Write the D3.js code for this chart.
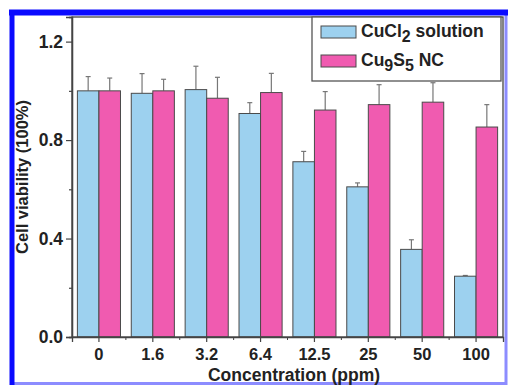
<!DOCTYPE html>
<html>
<head>
<meta charset="utf-8">
<script src="https://cdn.jsdelivr.net/npm/d3@7"></script>
<style>
  body { margin: 0; background: #fff; }
  text { font-family: "Liberation Sans", Arial, sans-serif; font-weight: bold; fill: #222; }
</style>
</head>
<body>
<div id="chart"></div>
<script>
// data
const concentrations = ['0', '1.6', '3.2', '6.4', '12.5', '25', '50', '100'];
const cuclValues = [1.0, 0.99, 1.005, 0.908, 0.712, 0.61, 0.356, 0.247];
const cuclErrors = [0.058, 0.08, 0.095, 0.044, 0.042, 0.016, 0.039, 0.003];
const cusValues = [1.0, 1.0, 0.97, 0.993, 0.922, 0.944, 0.954, 0.853];
const cusErrors = [0.052, 0.047, 0.085, 0.078, 0.075, 0.081, 0.079, 0.091];
const yTicks = [0.0, 0.4, 0.8, 1.2];
const yMinorTicks = [0.2, 0.6, 1.0];

const width = 508, height = 386;
const margin = {top: 17, right: 5, bottom: 49, left: 72};
const colors = {cucl: '#9dd1ef', cus: '#f05bb0'};

const svg = d3.select('#chart').append('svg')
  .attr('width', width)
  .attr('height', height);

// blue frame around the figure
svg.append('rect').attr('x', 12).attr('y', 12.5).attr('width', 494).attr('height', 371)
  .attr('fill', 'none').attr('stroke', '#8c8cff').attr('stroke-width', 3);
svg.append('line').attr('x1', 9).attr('x2', 508).attr('y1', 12.5).attr('y2', 12.5)
  .attr('stroke', '#0a0aff').attr('stroke-width', 6);
svg.append('line').attr('x1', 12).attr('x2', 12).attr('y1', 10).attr('y2', 385)
  .attr('stroke', '#0a0aff').attr('stroke-width', 5);

const x0 = d3.scaleBand().domain(concentrations)
  .range([margin.left, width - margin.right])
  .paddingInner(0.2).paddingOuter(0.1);
const x1 = d3.scaleBand().domain(['cucl', 'cus']).range([0, x0.bandwidth()]);
const y = d3.scaleLinear().domain([0, 1.3]).range([height - margin.bottom, margin.top]);

const groups = svg.append('g').selectAll('g')
  .data(concentrations)
  .join('g')
  .attr('transform', (d) => `translate(${x0(d)},0)`);

const rows = concentrations.map((c, i) => [
  {key: 'cucl', v: cuclValues[i], e: cuclErrors[i]},
  {key: 'cus', v: cusValues[i], e: cusErrors[i]},
]);

// error bars first (upper half only shows above bars)
groups.selectAll('g.err')
  .data((d, i) => rows[i])
  .join('g')
  .attr('class', 'err')
  .each(function(d) {
    const g = d3.select(this);
    const cx = x1(d.key) + x1.bandwidth() / 2;
    g.append('line').attr('x1', cx).attr('x2', cx)
      .attr('y1', y(d.v)).attr('y2', y(d.v + d.e))
      .attr('stroke', '#777').attr('stroke-width', 1.2);
    g.append('line').attr('x1', cx - 2.5).attr('x2', cx + 2.5)
      .attr('y1', y(d.v + d.e)).attr('y2', y(d.v + d.e))
      .attr('stroke', '#777').attr('stroke-width', 1.2);
  });

groups.selectAll('rect')
  .data((d, i) => rows[i])
  .join('rect')
  .attr('x', (d) => x1(d.key))
  .attr('y', (d) => y(d.v))
  .attr('width', x1.bandwidth())
  .attr('height', (d) => y(0) - y(d.v))
  .attr('fill', (d) => colors[d.key])
  .attr('stroke', '#4a4a4a')
  .attr('stroke-width', 1);

// plot frame
svg.append('rect')
  .attr('x', margin.left).attr('y', margin.top)
  .attr('width', width - margin.left - margin.right)
  .attr('height', height - margin.top - margin.bottom)
  .attr('fill', 'none').attr('stroke', '#444').attr('stroke-width', 1.3);

// y axis
const yAxis = svg.append('g')
  .attr('transform', `translate(${margin.left},0)`)
  .call(d3.axisLeft(y).tickValues(yTicks).tickFormat(d3.format('.1f')).tickSize(6).tickPadding(3));
yAxis.selectAll('text').style('font-size', '17.5px').attr('fill', '#222');
svg.append('g')
  .attr('transform', `translate(${margin.left},0)`)
  .call(d3.axisLeft(y).tickValues(yMinorTicks).tickFormat('').tickSize(3));

// x axis
const xAxis = svg.append('g')
  .attr('transform', `translate(0,${height - margin.bottom})`)
  .call(d3.axisBottom(x0).tickSize(5).tickPadding(6));
xAxis.selectAll('text').style('font-size', '16.5px').attr('fill', '#222');
const xMinor = concentrations.slice(1).map((c) => x0(c) - x0.step() * x0.paddingInner() / 2);
svg.append('g').selectAll('line')
  .data(xMinor)
  .join('line')
  .attr('x1', (d) => d).attr('x2', (d) => d)
  .attr('y1', height - margin.bottom).attr('y2', height - margin.bottom + 3)
  .attr('stroke', '#444');

svg.selectAll('.domain').attr('stroke', '#444').attr('stroke-width', 1.3);
svg.selectAll('.tick line').attr('stroke', '#444').attr('stroke-width', 1.2);

// axis titles
svg.append('text')
  .attr('transform', `translate(28,${(margin.top + height - margin.bottom) / 2}) rotate(-90)`)
  .attr('text-anchor', 'middle')
  .style('font-size', '16.5px')
  .text('Cell viability (100%)');
svg.append('text')
  .attr('x', 294).attr('y', 381)
  .attr('text-anchor', 'middle')
  .style('font-size', '17.5px')
  .text('Concentration (ppm)');

// legend
const legend = svg.append('g');
legend.append('rect')
  .attr('x', 312).attr('y', 17).attr('width', 189).attr('height', 64)
  .attr('fill', '#fff').attr('stroke', '#555').attr('stroke-width', 1.3);
const legendItems = [
  {key: 'cucl', base: 'CuCl', sub: '2', rest: ' solution', y: 26},
  {key: 'cus', base: 'Cu', sub: '9', mid: 'S', sub2: '5', rest: ' NC', y: 55},
];
legendItems.forEach((d) => {
  legend.append('rect')
    .attr('x', 321).attr('y', d.y).attr('width', 35).attr('height', 12)
    .attr('fill', colors[d.key]).attr('stroke', '#4a4a4a');
  const t = legend.append('text').attr('x', 361).attr('y', d.y + 11).style('font-size', '17.5px');
  t.append('tspan').text(d.base);
  t.append('tspan').attr('dy', 5).style('font-size', '16px').text(d.sub);
  if (d.mid) {
    t.append('tspan').attr('dy', -5).text(d.mid);
    t.append('tspan').attr('dy', 5).style('font-size', '16px').text(d.sub2);
  }
  t.append('tspan').attr('dy', -5).text(d.rest);
});
</script>
</body>
</html>
